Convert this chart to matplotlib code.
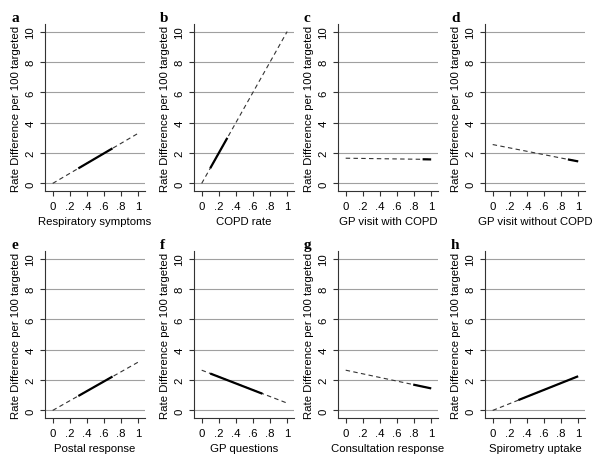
import numpy as np
import matplotlib
matplotlib.use('Agg')
import matplotlib.pyplot as plt

plt.rcParams['font.family'] = ['Liberation Sans', 'DejaVu Sans']

letters = ['a', 'b', 'c', 'd', 'e', 'f', 'g', 'h']
xlabels = ['Respiratory symptoms', 'COPD rate', 'GP visit with COPD', 'GP visit without COPD',
           'Postal response', 'GP questions', 'Consultation response', 'Spirometry uptake']

# dashed fitted line: value at x=0 and at x=1
dash_y0 = [0.0, 0.0, 1.66, 2.56, 0.0, 2.65, 2.65, 0.0]
dash_y1 = [3.3, 10.0, 1.58, 1.45, 3.18, 0.48, 1.45, 2.25]
# solid segment over observed range
solid_x0 = [0.3, 0.1, 0.9, 0.88, 0.3, 0.1, 0.79, 0.3]
solid_x1 = [0.7, 0.3, 1.0, 1.0, 0.7, 0.71, 1.0, 1.0]
solid_y0 = [0.99, 1.0, 1.59, 1.58, 0.95, 2.43, 1.7, 0.68]
solid_y1 = [2.31, 3.0, 1.58, 1.45, 2.23, 1.1, 1.45, 2.25]

xticks = [0, 0.2, 0.4, 0.6, 0.8, 1.0]
xticklabels = ['0', '.2', '.4', '.6', '.8', '1']
yticks = [0, 2, 4, 6, 8, 10]

W, H = 601, 460
fig = plt.figure(figsize=(W / 100, H / 100), dpi=100)

lefts = [45, 194, 338, 485]
bottoms = [192, 419]
aw, ah = 100, 167

for i in range(8):
    r, c = divmod(i, 4)
    ax = fig.add_axes([lefts[c] / W, (H - bottoms[r]) / H, aw / W, ah / H])
    ax.set_xlim(-0.09, 1.08)
    ax.set_ylim(-0.5, 10.5)
    for y in yticks:
        ax.axhline(y, color='#a0a0a0', lw=0.8, zorder=1)
    ax.plot([0, 1], [dash_y0[i], dash_y1[i]], color='#333333', lw=0.8,
            dashes=(4, 3), zorder=2)
    ax.plot([solid_x0[i], solid_x1[i]], [solid_y0[i], solid_y1[i]], color='black',
            lw=1.6, solid_capstyle='butt', zorder=3)
    for s in ['top', 'right']:
        ax.spines[s].set_visible(False)
    for s in ['left', 'bottom']:
        ax.spines[s].set_color('#333333')
        ax.spines[s].set_linewidth(0.8)
    ax.set_xticks(xticks)
    ax.set_xticklabels(xticklabels)
    ax.set_yticks(yticks)
    ax.set_yticklabels([str(v) for v in yticks], rotation=90, va='center')
    ax.tick_params(axis='both', labelsize=8.2, length=3.5, width=0.8, color='#333333')
    ax.set_xlabel(xlabels[i], fontsize=8.2, labelpad=4)
    ax.set_ylabel('Rate Difference per 100 targeted', fontsize=8.2, labelpad=3)
    fig.text((lefts[c] - 34) / W, (H - bottoms[r] + ah + 6) / H, letters[i],
             family='Liberation Serif', fontweight='bold', fontsize=11, va='center')

fig.savefig('out.png', dpi=100)
